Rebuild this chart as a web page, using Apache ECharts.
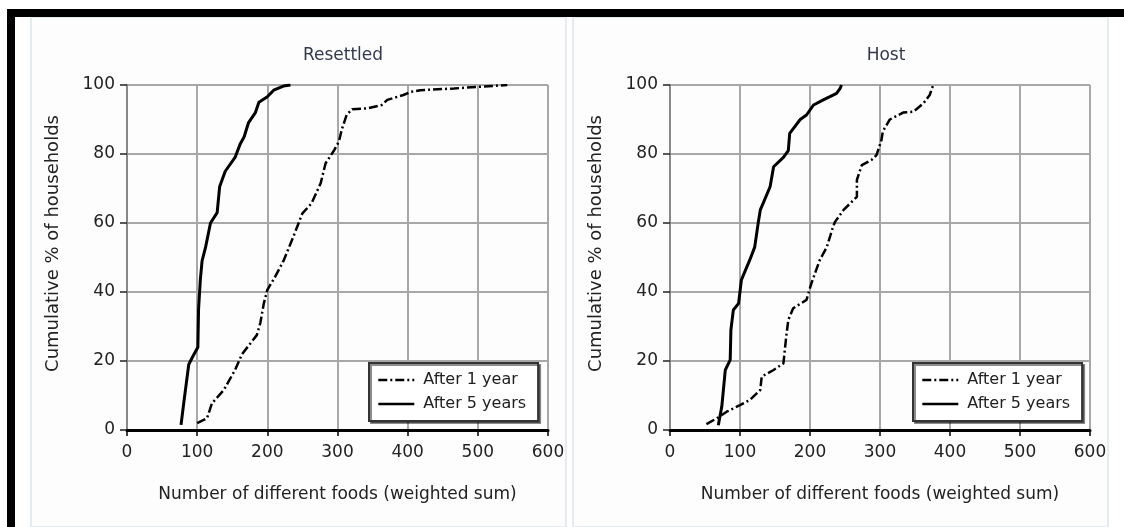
<!DOCTYPE html>
<html><head><meta charset="utf-8">
<script src="https://cdn.jsdelivr.net/npm/echarts@6/dist/echarts.min.js"></script>
<style>html,body{margin:0;padding:0;background:#fff}#c{width:1124px;height:527px}</style>
</head><body><div id="c"></div>
<script>
const panelTitles = ['Resettled', 'Host'];
const seriesNames = ['After 1 year', 'After 5 years'];
const xAxisName = 'Number of different foods (weighted sum)';
const yAxisName = 'Cumulative % of households';

const resettledYear1 = [[100,2],[114,3.4],[121,7.7],[138,11.6],[154,17.4],[164,22],[185,27.5],[190,31],[195,36.7],[200,40.6],[211,44.4],[223,49],[237,56],[250,62.8],[263,65.7],[276,71.5],[283,77.3],[295,81],[302,83.6],[306,87],[313,91.3],[321,93],[342,93.2],[363,94.2],[371,95.7],[394,97.1],[404,98],[418,98.5],[466,99],[504,99.5],[542,100]];
const resettledYear5 = [[77,1.5],[81,8],[88,19],[93,21],[101,24],[102,35],[104.5,43.5],[107,49],[112,53],[119,60],[128.5,63],[132,70.5],[140,75],[154,79],[161.5,83],[167,85],[173,89],[183,92],[188,95],[200,96.6],[209,98.5],[223,99.7],[233,100]];
const hostYear1 = [[52,1.7],[67,3.4],[81,5.3],[100,7.2],[114,8.7],[129,11.6],[131,15.5],[148,17.4],[162,19.3],[166,27],[169,31.9],[176,35.3],[195,37.7],[202,42.5],[214,49.3],[224,53],[233,59],[236,60.4],[248,63.8],[267,67.6],[267,72.5],[274,76.8],[288,78.3],[295,79.7],[302,84],[304,86.5],[314,90],[333,92],[348,92.3],[362,94.7],[371,97.1],[376,100]];
const hostYear5 = [[69,1.4],[74,6.8],[79,17.4],[86,20.3],[87,29],[90.5,34.8],[98,36.7],[102,43.5],[114,49.3],[121,53],[126,60],[129,63.8],[133,65.7],[143,70.5],[148,76.3],[162,79],[169,81],[171,86],[186,90],[195,91.3],[205,94.2],[219,95.7],[238,97.6],[243,99],[245,100]];

const panelData = [[resettledYear1, resettledYear5], [hostYear1, hostYear5]];

const FONT = 'DejaVu Sans';
const gridPos = [{left:127, top:85, width:421, height:345}, {left:670, top:85, width:420, height:345}];
const centers = [338, 881];

const option = {
  animation: false,
  backgroundColor: '#fff',
  textStyle: {fontFamily: FONT},
  graphic: [
    {type:'rect', shape:{x:31, y:17, width:535, height:510}, style:{fill:'#fdfdfd', stroke:'#e3ecee', lineWidth:2}, z:-10},
    {type:'rect', shape:{x:573, y:17, width:535, height:510}, style:{fill:'#fdfdfd', stroke:'#e3ecee', lineWidth:2}, z:-10},
    {type:'rect', shape:{x:7, y:9, width:1117, height:8}, style:{fill:'#000'}, z:10},
    {type:'rect', shape:{x:7, y:9, width:8, height:518}, style:{fill:'#000'}, z:10}
  ],
  title: panelTitles.map((t, i) => ({
    text: t, left: centers[i], top: 42, textAlign: 'center',
    textStyle: {fontFamily: FONT, fontSize: 17, fontWeight: 'normal', color: '#33384f'}
  })),
  legend: [0, 1].map(i => ({
    data: seriesNames,
    left: i === 0 ? 369 : 913, top: 363,
    orient: 'vertical',
    itemWidth: 36, itemHeight: 14, itemGap: 8,
    padding: [9, 12, 9, 8],
    backgroundColor: '#fff',
    borderColor: '#333', borderWidth: 2,
    shadowColor: 'rgba(0,0,0,0.45)', shadowOffsetX: 2, shadowOffsetY: 2, shadowBlur: 0,
    itemStyle: {opacity: 0, color: 'rgba(0,0,0,0)', borderWidth: 0},
    lineStyle: {width: 2.6},
    textStyle: {fontFamily: FONT, fontSize: 16, color: '#222', padding: [0,0,0,4]},
    selectedMode: false
  })),
  grid: gridPos.map(g => Object.assign({containLabel: false}, g)),
  xAxis: [0, 1].map(i => ({
    type: 'value', gridIndex: i, min: 0, max: 600, interval: 100,
    name: xAxisName, nameLocation: 'middle', nameGap: 56,
    nameTextStyle: {fontFamily: FONT, fontSize: 17, color: '#222'},
    axisLine: {show: true, onZero: false, lineStyle: {color: '#000', width: 3}},
    axisTick: {show: true, length: 6, lineStyle: {color: '#000', width: 1.5}},
    axisLabel: {fontFamily: FONT, fontSize: 17, color: '#222', margin: 14},
    splitLine: {show: true, lineStyle: {color: '#a8a8a8', width: 2}}
  })),
  yAxis: [0, 1].map(i => ({
    type: 'value', gridIndex: i, min: 0, max: 100, interval: 20,
    name: yAxisName, nameLocation: 'middle', nameGap: 65, nameRotate: 90,
    nameTextStyle: {fontFamily: FONT, fontSize: 18, color: '#222', padding: [0, 0, 0, 28]},
    axisLine: {show: true, lineStyle: {color: '#888', width: 2}},
    axisTick: {show: true, length: 7, lineStyle: {color: '#222', width: 1.5}},
    axisLabel: {fontFamily: FONT, fontSize: 17, color: '#222', margin: 12},
    splitLine: {show: true, lineStyle: {color: '#a8a8a8', width: 2}}
  })),
  series: []
};

panelData.forEach((pair, i) => {
  option.series.push({
    name: seriesNames[0], type: 'line', xAxisIndex: i, yAxisIndex: i,
    data: pair[0], symbol: 'none', z: 5,
    lineStyle: {color: '#000', width: 2.5, type: [9, 3, 2, 3]},
    itemStyle: {color: '#000'}
  });
  option.series.push({
    name: seriesNames[1], type: 'line', xAxisIndex: i, yAxisIndex: i,
    data: pair[1], symbol: 'none', z: 6,
    lineStyle: {color: '#000', width: 3, type: 'solid'},
    itemStyle: {color: '#000'}
  });
});

const chart = echarts.init(document.getElementById('c'), null, {renderer: 'canvas'});
chart.setOption(option);
</script>
</body></html>
